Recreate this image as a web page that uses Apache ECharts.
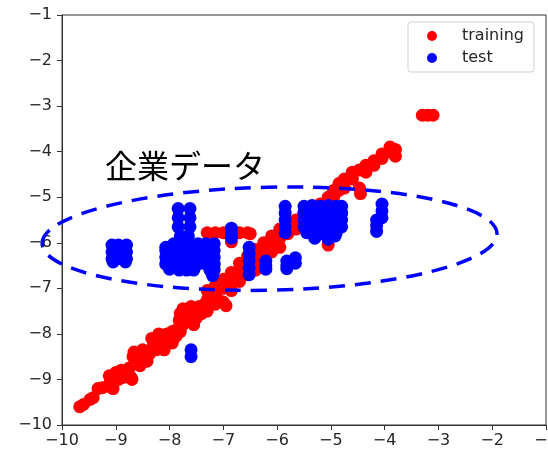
<!DOCTYPE html>
<html>
<head>
<meta charset="utf-8">
<script src="https://cdn.jsdelivr.net/npm/echarts@6/dist/echarts.min.js"></script>
<style>html,body{margin:0;padding:0;background:#fff;}#c{width:548px;height:450px;}</style>
</head>
<body>
<div id="c"></div>
<script>
// ---- data ----
const seriesNames = ['training', 'test'];
const trainingData = [
  [-9.67,-9.6],[-9.6,-9.55],[-9.48,-9.44],[-9.42,-9.4],
  [-9.33,-9.2],[-9.25,-9.18],[-9.15,-9.15],
  [-9.12,-8.92],[-9.1,-9.05],[-9.05,-9.2],[-9.0,-8.85],[-8.95,-9.0],[-8.9,-8.8],[-8.85,-8.95],
  [-8.75,-8.75],[-8.72,-8.95],[-8.7,-9.0],[-8.68,-8.5],[-8.66,-8.4],[-8.64,-8.65],
  [-8.5,-8.35],[-8.48,-8.5],[-8.42,-8.6],[-8.38,-8.45],[-8.55,-8.7],
  [-8.33,-8.1],[-8.3,-8.25],[-8.25,-8.35],[-8.2,-8.0],[-8.15,-8.2],[-8.1,-8.35],
  [-8.05,-8.0],[-8.0,-8.1],[-7.95,-7.95],[-7.95,-8.2],[-7.88,-8.05],[-7.86,-7.9],[-7.8,-7.95],
  [-7.82,-7.7],[-7.8,-7.55],[-7.75,-7.8],[-7.7,-7.6],[-7.65,-7.72],
  [-7.75,-7.45],[-7.6,-7.4],[-7.65,-7.55],[-7.55,-7.8],
  [-7.55,-7.5],[-7.5,-7.65],[-7.45,-7.4],[-7.4,-7.55],[-7.35,-7.35],[-7.3,-7.5],
  [-7.25,-7.3],[-7.2,-7.2],[-7.15,-7.35],[-7.1,-7.25],[-7.0,-7.3],[-6.95,-7.38],
  [-7.3,-7.05],[-7.3,-7.25],[-7.3,-7.45],
  [-7.15,-6.95],[-7.15,-7.15],
  [-7.0,-6.8],[-7.0,-7.0],
  [-6.85,-6.65],[-6.85,-6.85],[-6.85,-7.05],
  [-6.7,-6.45],[-6.7,-6.65],[-6.7,-6.85],
  [-6.55,-6.3],[-6.55,-6.5],[-6.55,-6.7],
  [-6.4,-6.15],[-6.4,-6.35],[-6.4,-6.6],
  [-6.25,-6.0],[-6.25,-6.2],[-6.25,-6.45],
  [-6.1,-5.85],[-6.1,-6.05],[-6.1,-6.2],
  [-5.95,-5.7],[-5.95,-5.9],[-5.95,-6.1],
  [-5.8,-5.6],[-5.8,-5.8],
  [-5.65,-5.5],[-5.65,-5.7],
  [-5.5,-5.35],[-5.5,-5.55],
  [-5.35,-5.25],[-5.35,-5.4],
  [-5.2,-5.15],[-5.2,-5.3],
  [-5.05,-5.0],[-5.05,-5.15],
  [-4.95,-4.85],[-4.95,-5.0],
  [-4.85,-4.7],[-4.85,-4.85],
  [-4.75,-4.6],[-4.75,-4.8],
  [-4.6,-4.45],[-4.6,-4.6],
  [-4.47,-4.4],[-4.47,-4.8],[-4.45,-4.92],
  [-4.35,-4.3],[-4.35,-4.45],
  [-4.2,-4.2],[-4.2,-4.3],
  [-4.05,-4.05],[-4.05,-4.15],
  [-3.9,-3.9],[-3.9,-4.0],
  [-3.8,-3.95],[-3.8,-4.1],
  [-7.3,-5.78],[-7.15,-5.78],[-7.0,-5.78],[-6.85,-5.78],[-6.7,-5.78],[-6.55,-5.78],[-6.5,-5.8],
  [-6.85,-5.98],[-5.05,-6.05],
  [-3.3,-3.2],[-3.2,-3.2],[-3.1,-3.2]
];
const testData = [
  // cluster near x = -9
  [-9.07,-6.05],[-8.95,-6.05],[-8.8,-6.05],[-9.07,-6.2],[-8.95,-6.2],[-8.8,-6.2],
  [-9.07,-6.35],[-8.95,-6.35],[-8.8,-6.35],[-9.05,-6.42],[-8.82,-6.42],
  // tall columns near x = -7.7
  [-7.84,-5.25],[-7.62,-5.25],[-7.84,-5.45],[-7.62,-5.45],[-7.84,-5.65],[-7.62,-5.65],[-7.8,-5.85],[-7.65,-5.85],
  // main blob near x = -7.6
  [-8.07,-6.1],[-7.92,-6.02],[-7.77,-6.02],[-7.62,-6.02],[-7.47,-6.02],[-7.32,-6.02],[-7.17,-6.02],
  [-8.07,-6.17],[-7.92,-6.17],[-7.77,-6.17],[-7.62,-6.17],[-7.47,-6.17],[-7.32,-6.17],[-7.17,-6.17],
  [-8.07,-6.32],[-7.92,-6.32],[-7.77,-6.32],[-7.62,-6.32],[-7.47,-6.32],[-7.32,-6.32],[-7.17,-6.32],
  [-8.07,-6.47],[-7.92,-6.47],[-7.77,-6.47],[-7.62,-6.47],[-7.47,-6.47],[-7.32,-6.47],[-7.17,-6.47],
  [-8.0,-6.58],[-7.82,-6.6],[-7.68,-6.6],[-7.55,-6.6],[-7.25,-6.6],[-7.17,-6.6],[-7.2,-6.72],
  // small stub and bars
  [-6.85,-5.68],[-6.85,-5.8],[-6.85,-5.9],
  [-6.52,-6.1],[-6.52,-6.25],[-6.52,-6.4],[-6.52,-6.55],[-6.52,-6.7],
  [-6.21,-6.4],[-6.21,-6.5],[-6.21,-6.58],
  [-5.82,-6.4],[-5.82,-6.5],[-5.82,-6.57],[-5.66,-6.33],[-5.66,-6.45],
  [-5.85,-5.2],[-5.85,-5.35],[-5.85,-5.5],[-5.85,-5.65],[-5.85,-5.78],
  // blob near x = -5.1
  [-5.5,-5.2],[-5.35,-5.18],[-5.2,-5.2],[-5.05,-5.18],[-4.9,-5.2],[-4.8,-5.2],
  [-5.5,-5.35],[-5.35,-5.35],[-5.2,-5.35],[-5.05,-5.35],[-4.9,-5.35],[-4.8,-5.35],
  [-5.5,-5.5],[-5.35,-5.5],[-5.2,-5.5],[-5.05,-5.5],[-4.9,-5.5],[-4.8,-5.5],
  [-5.5,-5.65],[-5.35,-5.65],[-5.2,-5.65],[-5.05,-5.65],[-4.9,-5.65],[-4.8,-5.65],
  [-5.45,-5.78],[-5.35,-5.8],[-5.2,-5.8],[-5.05,-5.8],[-4.9,-5.78],
  [-5.3,-5.9],[-5.05,-5.92],[-4.92,-5.85],
  // right column near x = -4.1
  [-4.05,-5.15],[-4.05,-5.3],[-4.05,-5.45],[-4.15,-5.5],[-4.15,-5.62],[-4.15,-5.75],
  // lone points
  [-7.6,-8.35],[-7.6,-8.5]
];
const xMin = -10, xMax = -1, yMin = -10, yMax = -1, tickStep = 1;
const annotationText = '企業データ';
const annotationPos = [-9.2, -4.31];
const ellipseCenter = [-6.14, -5.91];
const ellipseRadii = [4.23, 1.13];

// ---- chart ----
const chart = echarts.init(document.getElementById('c'), null, {renderer: 'canvas'});
const fmt = v => String(v).replace('-', '\u2212');
const labelStyle = {fontFamily: 'DejaVu Sans', fontSize: 16, color: '#262626'};
chart.setOption({
  animation: false,
  backgroundColor: '#fff',
  grid: {left: 62, right: 2, top: 15, bottom: 25, show: true, borderColor: '#333', borderWidth: 1,
         containLabel: false, outerBoundsMode: 'none'},
  legend: {
    orient: 'vertical', left: 408, top: 22,
    data: seriesNames,
    icon: 'circle', itemWidth: 10, itemHeight: 10, itemGap: 6,
    padding: [6, 10, 6, 19],
    borderColor: '#d0d0d0', borderWidth: 1, borderRadius: 3,
    textStyle: {fontFamily: 'DejaVu Sans', fontSize: 16, lineHeight: 16, color: '#262626', padding: [0, 0, 0, 20]},
    selectedMode: false
  },
  xAxis: {
    type: 'value', min: xMin, max: xMax, interval: tickStep,
    axisLine: {show: true, onZero: false, lineStyle: {color: '#333', width: 1}},
    axisTick: {show: true, inside: false, length: 5, lineStyle: {color: '#333'}},
    splitLine: {show: false},
    axisLabel: Object.assign({margin: 8, formatter: fmt, showMaxLabel: true, showMinLabel: true}, labelStyle)
  },
  yAxis: {
    type: 'value', min: yMin, max: yMax, interval: tickStep,
    axisLine: {show: true, onZero: false, lineStyle: {color: '#333', width: 1}},
    axisTick: {show: true, inside: false, length: 5, lineStyle: {color: '#333'}},
    splitLine: {show: false},
    axisLabel: Object.assign({margin: 10, formatter: fmt}, labelStyle)
  },
  series: [
    {name: seriesNames[0], type: 'scatter', data: trainingData, symbol: 'circle', symbolSize: 13,
     itemStyle: {color: '#ff0000', opacity: 1}, emphasis: {disabled: true}, z: 2},
    {name: seriesNames[1], type: 'scatter', data: testData, symbol: 'circle', symbolSize: 13,
     itemStyle: {color: '#0000ff', opacity: 1}, emphasis: {disabled: true}, z: 3}
  ]
});

const c = chart.convertToPixel({gridIndex: 0}, ellipseCenter);
const ex = chart.convertToPixel({gridIndex: 0}, [ellipseCenter[0] + ellipseRadii[0], ellipseCenter[1] + ellipseRadii[1]]);
const tp = chart.convertToPixel({gridIndex: 0}, annotationPos);
chart.setOption({
  graphic: [
    {type: 'ellipse', x: c[0], y: c[1], rotation: 0.022, z: 100,
     shape: {cx: 0, cy: 0, rx: Math.abs(ex[0] - c[0]), ry: Math.abs(ex[1] - c[1])},
     style: {fill: 'none', stroke: '#0000ff', lineWidth: 3.5, lineDash: [16, 10]}},
    {type: 'text', x: tp[0], y: tp[1], z: 100,
     style: {text: annotationText, fontFamily: '"Noto Sans CJK JP"', fontSize: 32, fill: '#000',
             textAlign: 'left', textVerticalAlign: 'middle'}}
  ]
});
</script>
</body>
</html>
